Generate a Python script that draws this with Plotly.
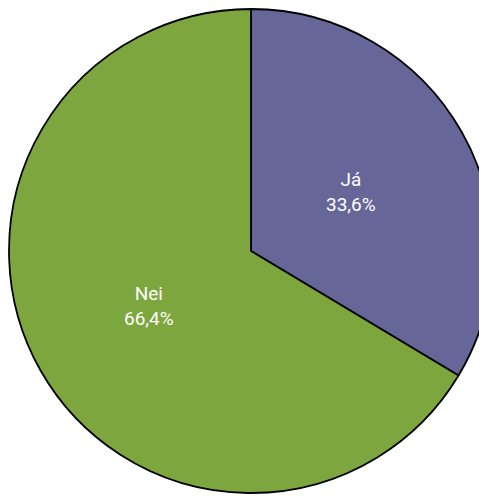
import math
import plotly.graph_objects as go

labels = ["Já", "Nei"]
values = [33.6, 66.4]
colors = ["#666699", "#7EA63E"]

W, H = 485, 488
ML, MT, MB = 1, 1, 3
R = 242
CX, CY = ML + R, MT + R

fig = go.Figure(go.Pie(
    labels=labels,
    values=values,
    sort=False,
    direction="clockwise",
    rotation=0,
    marker=dict(colors=colors, line=dict(color="#000000", width=1.8)),
    textinfo="none",
    hoverinfo="label+percent",
    showlegend=False,
))

total = sum(values)
start = 90.0
for lab, v in zip(labels, values):
    span = 360.0 * v / total
    mid = math.radians(start - span / 2)
    start -= span
    px = CX + 0.48 * R * math.cos(mid) - 1
    py = CY - 0.48 * R * math.sin(mid) - 2
    pct = f"{100 * v / total:.1f}".replace(".", ",")
    fig.add_annotation(
        x=(px - ML) / (W - ML), y=1 - (py - MT) / (H - MT - MB),
        xref="paper", yref="paper",
        xanchor="center", yanchor="middle",
        text=f"{lab}<br>{pct}%", showarrow=False,
        font=dict(family="Roboto, sans-serif", size=19, color="#FFFFFF"),
        align="center",
    )

fig.update_layout(
    width=W, height=H,
    margin=dict(l=ML, r=0, t=MT, b=MB),
    paper_bgcolor="#FFFFFF",
    plot_bgcolor="#FFFFFF",
    separators=", ",
)

fig.write_html("out.html")
